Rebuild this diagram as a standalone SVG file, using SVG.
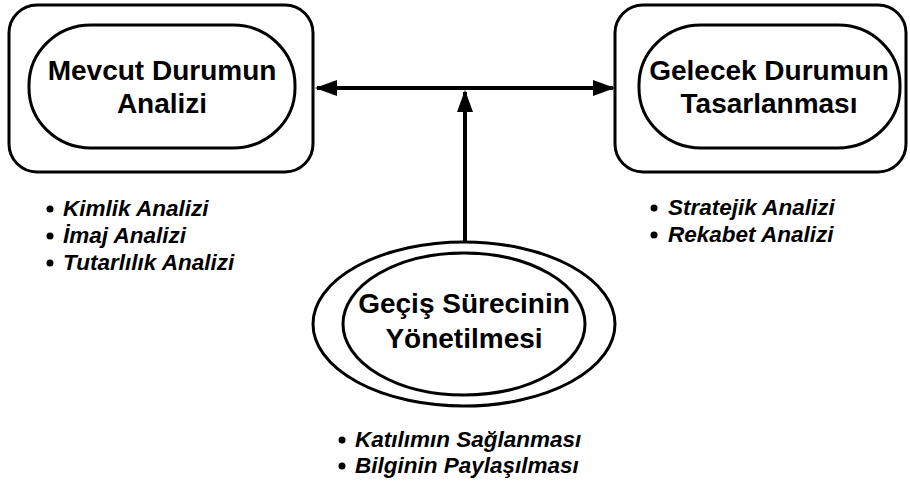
<svg xmlns="http://www.w3.org/2000/svg" width="910" height="489" viewBox="0 0 910 489">
  <style>
    .frame { fill: #ffffff; stroke: #000000; stroke-width: 3; }
    .title { font-family: "Liberation Sans", Arial, sans-serif; font-weight: bold; font-size: 28px; fill: #000000; text-anchor: middle; }
    .item { font-family: "Liberation Sans", Arial, sans-serif; font-weight: bold; font-style: italic; font-size: 22.5px; fill: #000000; }
    .dot { fill: #000000; }
    .link { fill: none; stroke: #000000; stroke-width: 4; }
  </style>
  <defs>
    <marker id="head" markerUnits="userSpaceOnUse" markerWidth="22" markerHeight="16" refX="20" refY="8" orient="auto-start-reverse">
      <path d="M0,0 L22,8 L0,16 Z" fill="#000000"/>
    </marker>
  </defs>

  <rect width="910" height="489" fill="#ffffff"/>

  <!-- current state analysis -->
  <g id="mevcut">
    <rect class="frame" x="9" y="5" width="304" height="167" rx="28"/>
    <rect class="frame" x="29" y="25" width="266" height="123" rx="62" ry="60"/>
    <text class="title" x="162" y="80">Mevcut Durumun</text>
    <text class="title" x="162" y="113">Analizi</text>
  </g>

  <!-- future state design -->
  <g id="gelecek">
    <rect class="frame" x="615" y="5" width="291" height="167" rx="28"/>
    <rect class="frame" x="639" y="25" width="261" height="123" rx="62" ry="60"/>
    <text class="title" x="769" y="80">Gelecek Durumun</text>
    <text class="title" x="769" y="113">Tasarlanması</text>
  </g>

  <!-- transition management -->
  <g id="gecis">
    <ellipse class="frame" cx="464" cy="324" rx="151" ry="82"/>
    <ellipse class="frame" cx="464" cy="324" rx="121" ry="71"/>
    <text class="title" x="464" y="313">Geçiş Sürecinin</text>
    <text class="title" x="464" y="348">Yönetilmesi</text>
  </g>

  <!-- connectors -->
  <g id="connectors">
    <line class="link" x1="317" y1="88" x2="613" y2="88" marker-start="url(#head)" marker-end="url(#head)"/>
    <line class="link" x1="465" y1="242" x2="465" y2="92" marker-end="url(#head)"/>
  </g>

  <!-- bullet lists -->
  <g id="mevcut-items">
    <circle class="dot" cx="50" cy="209" r="3.5"/>
    <text class="item" x="63" y="216">Kimlik Analizi</text>
    <circle class="dot" cx="50" cy="236" r="3.5"/>
    <text class="item" x="63" y="243">İmaj Analizi</text>
    <circle class="dot" cx="50" cy="263" r="3.5"/>
    <text class="item" x="63" y="270">Tutarlılık Analizi</text>
  </g>

  <g id="gelecek-items">
    <circle class="dot" cx="654" cy="208" r="3.5"/>
    <text class="item" x="668" y="215">Stratejik Analizi</text>
    <circle class="dot" cx="654" cy="235" r="3.5"/>
    <text class="item" x="668" y="242">Rekabet Analizi</text>
  </g>

  <g id="gecis-items">
    <circle class="dot" cx="342" cy="440" r="3.5"/>
    <text class="item" x="355" y="447">Katılımın Sağlanması</text>
    <circle class="dot" cx="342" cy="466" r="3.5"/>
    <text class="item" x="355" y="473">Bilginin Paylaşılması</text>
  </g>
</svg>
